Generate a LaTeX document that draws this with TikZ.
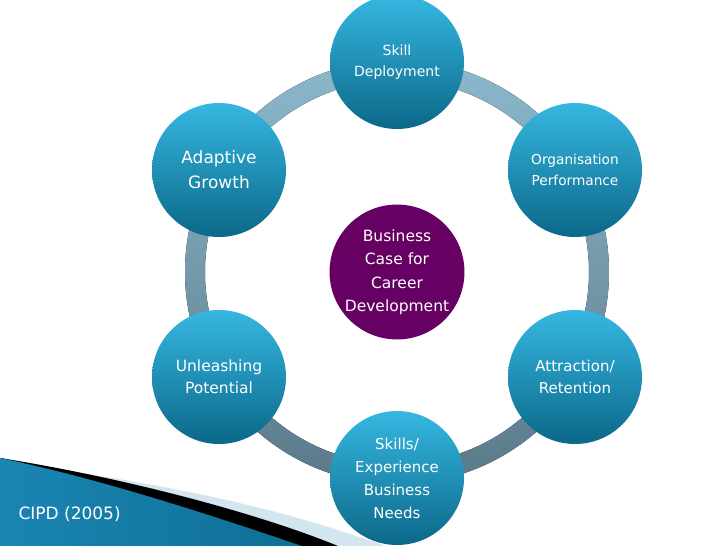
\documentclass[tikz,border=0pt]{standalone}
\usepackage{fontspec}
\setmainfont{DejaVu Sans}
\definecolor{bluetop}{HTML}{36B7E1}
\definecolor{bluebot}{HTML}{0B6889}
\definecolor{hubpurple}{HTML}{660062}
\definecolor{ringtop}{HTML}{8CB8CB}
\definecolor{ringbot}{HTML}{5B7A8A}
\definecolor{swooshleft}{HTML}{1A85B3}
\definecolor{swooshright}{HTML}{0F6F95}
\definecolor{palestripe}{HTML}{D3E5EE}
\begin{document}
\begin{tikzpicture}[x=1pt, y=-1pt,
  bubble/.style={circle, minimum size=134pt, inner sep=0pt, top color=bluetop, bottom color=bluebot, text=white, align=center},
  hub/.style={circle, minimum size=118pt, inner sep=0pt, fill=hubpurple, text=white, align=center}]
\useasboundingbox (0,0) rectangle (728,546);
% swoosh in the corner
\fill[palestripe] (60,470) .. controls (200,490) and (300,515) .. (385,546) -- (0,546) -- cycle;
\fill[black] (0,458) .. controls (120,477) and (255,512) .. (338,546) -- (0,546) -- cycle;
\fill[left color=swooshleft, right color=swooshright] (0,458) .. controls (110,481) and (225,520) .. (302,546) -- (0,546) -- cycle;
\node[text=white, anchor=west, font=\fontsize{17}{20}\selectfont] (cite) at (15,514) {CIPD (2005)};
% ring
\fill[top color=ringtop, bottom color=ringbot, even odd rule] (397,272) circle (212pt) (397,272) circle (192pt);
% circles
\node[hub, font=\fontsize{15.5}{23.5}\selectfont] (C) at (397,272) {Business\\Case for\\Career\\Development};
\node[bubble, font=\fontsize{14}{21}\selectfont] (S1) at (397,62) {Skill\\Deployment};
\node[bubble, font=\fontsize{13.7}{21}\selectfont] (S2) at (575,170) {Organisation\\Performance};
\node[bubble, font=\fontsize{15}{21.5}\selectfont] (S3) at (575,377) {Attraction/\\Retention};
\node[bubble, font=\fontsize{15}{23}\selectfont] (S4) at (397,478) {Skills/\\Experience\\Business\\Needs};
\node[bubble, font=\fontsize{15.5}{22}\selectfont] (S5) at (219,377) {Unleashing\\Potential};
\node[bubble, font=\fontsize{17}{25}\selectfont] (S6) at (219,170) {Adaptive\\Growth};
\end{tikzpicture}
\end{document}
